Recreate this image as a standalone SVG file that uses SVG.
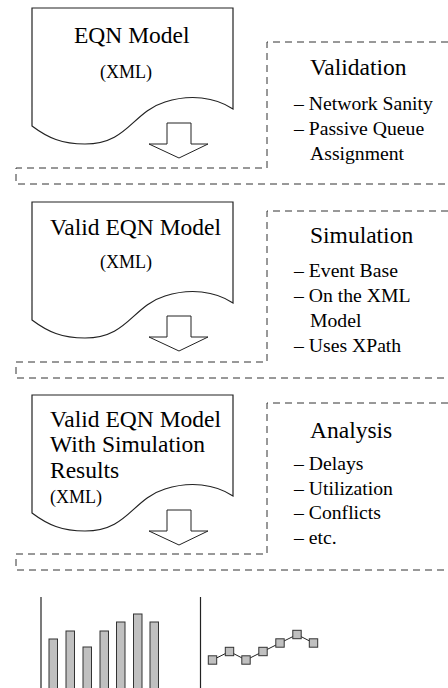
<svg xmlns="http://www.w3.org/2000/svg" width="448" height="688" viewBox="0 0 448 688">
<style>
.doc{fill:#fff;stroke:#222;stroke-width:1.2}
.arr{fill:#fff;stroke:#222;stroke-width:1}
.dash{fill:none;stroke:#333;stroke-width:1;stroke-dasharray:7 5}
.t{font-family:"Liberation Serif","Times New Roman",serif;fill:#000}
.big{font-size:23.5px}
.xml{font-size:18px}
.item{font-size:19.7px}
.bar{fill:#c0c0c0;stroke:#333;stroke-width:1}
.axis{stroke:#222;stroke-width:1.2;fill:none}
.pt{fill:#c0c0c0;stroke:#333;stroke-width:1}
.ln{stroke:#222;stroke-width:1;fill:none}
</style>
<defs>
<path id="docshape" d="M32,0 H233 V101 C215,89 190,86 165,94 C132,104 128,136 85,136 C62,136 48,130 32,118 Z"/>
<path id="arrow" d="M167,0 H191 V21 H208 L179,35 L149,21 H167 Z"/>
</defs>

<g id="connectors">
<path class="dash" d="M448,42 H267 V168 H16 V184 H448"/>
<path class="dash" d="M448,211 H267 V362 H16 V378 H448"/>
<path class="dash" d="M448,403 H267 V554 H16 V570 H448"/>
<use href="#arrow" class="arr" transform="translate(0,123)"/>
<use href="#arrow" class="arr" transform="translate(0,316)"/>
<use href="#arrow" class="arr" transform="translate(0,510)"/>
</g>

<g id="doc1">
<use href="#docshape" class="doc" transform="translate(0,8)"/>
<text class="t big" x="74" y="43">EQN Model</text>
<text class="t xml" x="100" y="78">(XML)</text>
</g>

<g id="doc2">
<use href="#docshape" class="doc" transform="translate(0,202)"/>
<text class="t big" x="50" y="235">Valid EQN Model</text>
<text class="t xml" x="100" y="268">(XML)</text>
</g>

<g id="doc3">
<use href="#docshape" class="doc" transform="translate(0,395)"/>
<text class="t big" x="50" y="427">Valid EQN Model</text>
<text class="t big" x="50" y="452">With Simulation</text>
<text class="t big" x="50" y="478">Results</text>
<text class="t xml" x="50" y="503">(XML)</text>
</g>

<g id="validation">
<text class="t big" x="310" y="75">Validation</text>
<text class="t item" x="294" y="110">– Network Sanity</text>
<text class="t item" x="294" y="135">– Passive Queue</text>
<text class="t item" x="310" y="160">Assignment</text>
</g>

<g id="simulation">
<text class="t big" x="310" y="243">Simulation</text>
<text class="t item" x="294" y="277">– Event Base</text>
<text class="t item" x="294" y="302">– On the XML</text>
<text class="t item" x="310" y="327">Model</text>
<text class="t item" x="294" y="352">– Uses XPath</text>
</g>

<g id="analysis">
<text class="t big" x="310" y="438">Analysis</text>
<text class="t item" x="294" y="470">– Delays</text>
<text class="t item" x="294" y="495">– Utilization</text>
<text class="t item" x="294" y="519">– Conflicts</text>
<text class="t item" x="294" y="544">– etc.</text>
</g>

<g id="barchart">
<line class="axis" x1="41" y1="597" x2="41" y2="690"/>
<rect class="bar" x="49" y="639" width="8.5" height="60"/>
<rect class="bar" x="66" y="631" width="8.5" height="70"/>
<rect class="bar" x="83" y="647" width="8.5" height="60"/>
<rect class="bar" x="100" y="631" width="8.5" height="70"/>
<rect class="bar" x="116.5" y="622" width="8.5" height="80"/>
<rect class="bar" x="133.5" y="614" width="8.5" height="80"/>
<rect class="bar" x="150" y="622" width="8.5" height="80"/>
</g>

<g id="linechart">
<line class="axis" x1="200.5" y1="597" x2="200.5" y2="690"/>
<polyline class="ln" points="212.5,660 229.5,651.5 246,660 263,651.5 280,643 297,634.5 313.5,643"/>
<rect class="pt" x="208.3" y="655.8" width="8.4" height="8.4"/>
<rect class="pt" x="225.3" y="647.3" width="8.4" height="8.4"/>
<rect class="pt" x="241.8" y="655.8" width="8.4" height="8.4"/>
<rect class="pt" x="258.8" y="647.3" width="8.4" height="8.4"/>
<rect class="pt" x="275.8" y="638.8" width="8.4" height="8.4"/>
<rect class="pt" x="292.8" y="630.3" width="8.4" height="8.4"/>
<rect class="pt" x="309.3" y="638.8" width="8.4" height="8.4"/>
</g>
</svg>
